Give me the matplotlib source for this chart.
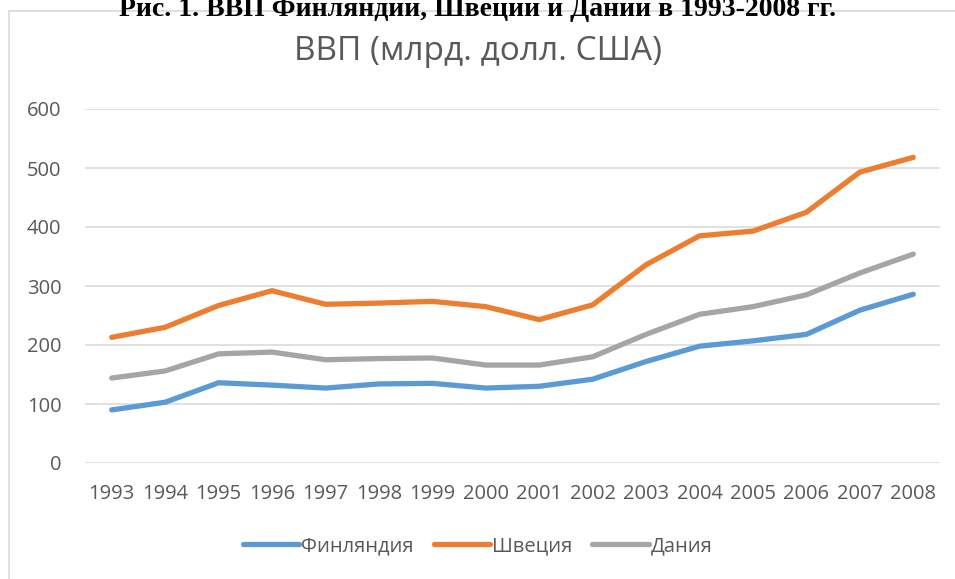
import matplotlib
matplotlib.use('Agg')
import matplotlib.pyplot as plt
from matplotlib.patches import Rectangle

plt.rcParams['font.family'] = ['Open Sans', 'DejaVu Sans']

years = ['1993', '1994', '1995', '1996', '1997', '1998', '1999', '2000',
         '2001', '2002', '2003', '2004', '2005', '2006', '2007', '2008']
finland = [90, 103, 136, 132, 127, 134, 135, 127, 130, 142, 172, 198, 207, 218, 259, 286]
sweden = [213, 230, 267, 292, 269, 271, 274, 265, 243, 268, 336, 385, 393, 425, 493, 518]
denmark = [144, 156, 185, 188, 175, 177, 178, 166, 166, 180, 218, 252, 265, 285, 322, 354]
names = ['Финляндия', 'Швеция', 'Дания']
colors = ['#5B9BD5', '#ED7D31', '#A5A5A5']

W, H = 955, 579
fig = plt.figure(figsize=(W / 100, H / 100), dpi=100)

# chart frame (runs past the right/bottom edge like the screenshot)
fig.patches.append(Rectangle((9 / W, -0.1), 1.2, (H - 11) / H + 0.1,
                             transform=fig.transFigure, fill=False,
                             edgecolor='#D9D9D9', linewidth=1.2))

# document caption, partly cut at the top as in the source
fig.text(0.5, 1 - 16 / H, 'Рис. 1. ВВП Финляндии, Швеции и Дании в 1993-2008 гг.',
         ha='center', va='baseline', fontsize=20, fontweight='bold',
         family='Liberation Serif', color='black')

ax = fig.add_axes([85 / W, 1 - 463 / H, (940 - 85) / W, (463 - 109) / H])
x = range(len(years))
for vals, name, c in zip([finland, sweden, denmark], names, colors):
    ax.plot(x, vals, color=c, linewidth=3.8, solid_capstyle='round',
            solid_joinstyle='round', label=name, zorder=3)

ax.set_xlim(-0.5, len(years) - 0.5)
ax.set_ylim(0, 600)
ax.set_yticks(range(0, 601, 100))
ax.set_xticks(list(x))
ax.set_xticklabels(years)
ax.grid(axis='y', color='#D9D9D9', linewidth=1.1)
ax.set_axisbelow(True)
for s in ax.spines.values():
    s.set_visible(False)
ax.tick_params(length=0, labelsize=14.5, colors='#595959')
ax.tick_params(axis='x', pad=15)
ax.tick_params(axis='y', pad=17)

fig.text(0.5, 1 - 52 / H, 'ВВП (млрд. долл. США)', ha='center', va='center',
         fontsize=24, color='#595959')

fig.legend(loc='center', bbox_to_anchor=(0.5, 1 - 546 / H), ncol=3, frameon=False,
           fontsize=14.5, labelcolor='#595959', handlelength=2.8,
           handletextpad=0.1, columnspacing=1.0)

fig.savefig('out.png', dpi=100)
